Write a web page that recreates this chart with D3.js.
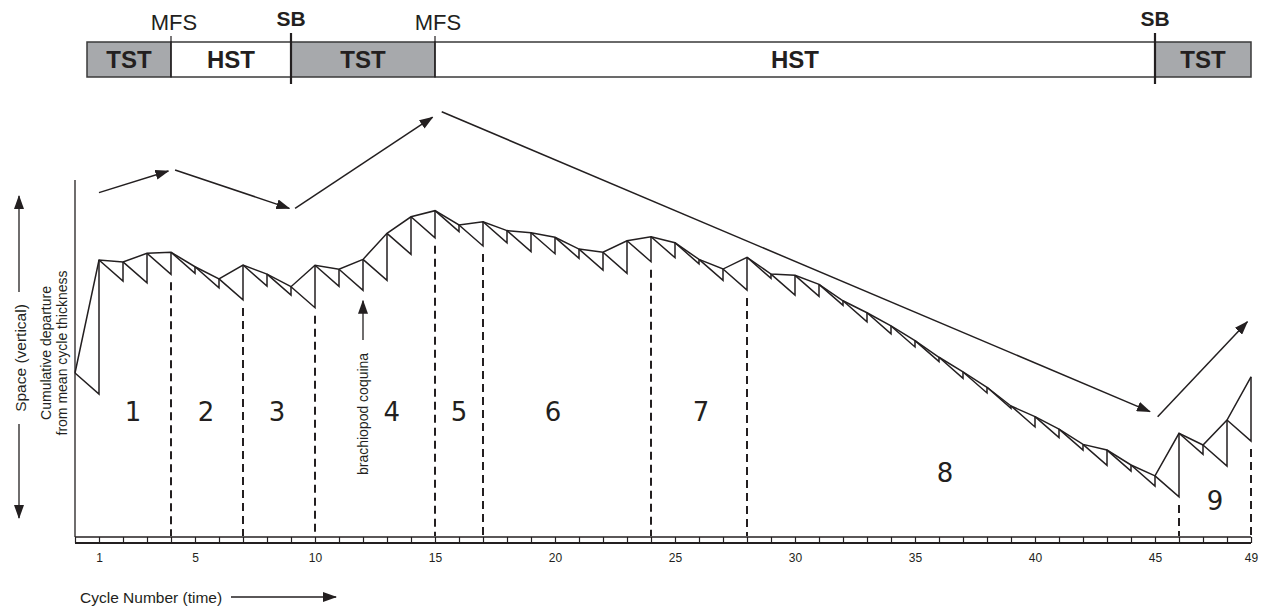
<!DOCTYPE html>
<html>
<head>
<meta charset="utf-8">
<script src="https://cdn.jsdelivr.net/npm/d3@7"></script>
<style>
  body { margin: 0; background: #fff; }
  text { font-family: "Liberation Sans", Arial, sans-serif; fill: #231f20; }
</style>
</head>
<body>
<div id="chart"></div>
<script>
// Cumulative departure from mean cycle thickness (top of each cycle), cycles 0..49
var cycles = d3.range(0, 50);
var departure = [0, 5.38, 5.29, 5.70, 5.75, 5.06, 4.48, 5.14, 4.71, 4.11,
                 5.13, 4.94, 5.41, 6.65, 7.44, 7.73, 7.05, 7.20, 6.78, 6.68,
                 6.46, 5.90, 5.75, 6.30, 6.49, 6.20, 5.41, 4.95, 5.51, 4.71,
                 4.65, 4.22, 3.44, 2.87, 2.24, 1.54, 0.75, 0.05, -0.68, -1.57,
                 -2.08, -2.67, -3.40, -3.67, -4.38, -4.90, -2.87, -3.43, -2.24, -0.18];
var meanThickness = 1;

// cycle boundaries (dashed) and the numbered parasequence sets
var boundaries = [4, 7, 10, 15, 17, 24, 28, 46, 49];
var setLabels = ["1", "2", "3", "4", "5", "6", "7", "8", "9"];
var setLabelX = [2.42, 5.46, 8.42, 13.2, 16.0, 19.92, 26.08, 36.25, 47.5];
var setLabelY = [-2.29, -2.29, -2.29, -2.29, -2.29, -2.29, -2.29, -5.19, -6.52];

// tick labels on the cycle axis
var tickLabels = [1, 5, 10, 15, 20, 25, 30, 35, 40, 45, 49];

// systems tracts bar
var tractStart = [0.5, 4, 9, 15, 45];
var tractEnd = [4, 9, 15, 45, 49];
var tractNames = ["TST", "HST", "TST", "HST", "TST"];
var surfaceAt = [4, 9, 15, 45];
var surfaceNames = ["MFS", "SB", "MFS", "SB"];

// trend arrows [x1, y1, x2, y2] in cycle / departure units
var trendArrows = [
  [1.0, 8.59, 3.89, 9.62],
  [4.17, 9.67, 8.93, 7.84],
  [9.17, 7.84, 14.90, 12.18],
  [15.28, 12.44, 44.79, -1.84],
  [45.11, -2.08, 48.85, 2.44]
];

var width = 1268, height = 610;
var svg = d3.select("#chart").append("svg")
    .attr("width", width)
    .attr("height", height);

var x = d3.scaleLinear().domain([0, 49]).range([75, 1251]);
var y = d3.scaleLinear().domain([-8, 13]).range([541, 100]);
var ink = "#231f20";

// arrow head marker
svg.append("defs").append("marker")
    .attr("id", "head")
    .attr("viewBox", "0 0 14 10")
    .attr("refX", 13).attr("refY", 5)
    .attr("markerWidth", 14).attr("markerHeight", 10)
    .attr("markerUnits", "userSpaceOnUse")
    .attr("orient", "auto")
  .append("path")
    .attr("d", "M0,0 L14,5 L0,10 Z")
    .attr("fill", ink);

// ---- systems tracts bar ----
var barTop = 42, barBottom = 77;
var bar = svg.append("g");
bar.selectAll("rect")
    .data(tractNames)
    .enter().append("rect")
    .attr("x", function(d, i) { return x(tractStart[i]); })
    .attr("y", barTop)
    .attr("width", function(d, i) { return x(tractEnd[i]) - x(tractStart[i]); })
    .attr("height", barBottom - barTop)
    .attr("fill", function(d) { return d == "TST" ? "#a7a9ac" : "#fff"; })
    .attr("stroke", "#3a3a3a")
    .attr("stroke-width", 1.5);
bar.selectAll("text.tract")
    .data(tractNames)
    .enter().append("text")
    .attr("class", "tract")
    .attr("x", function(d, i) { return (x(tractStart[i]) + x(tractEnd[i])) / 2; })
    .attr("y", 68)
    .attr("text-anchor", "middle")
    .attr("font-weight", "bold")
    .attr("font-size", 24)
    .text(function(d) { return d; });
bar.selectAll("line.surface")
    .data(surfaceNames)
    .enter().append("line")
    .attr("x1", function(d, i) { return x(surfaceAt[i]); })
    .attr("x2", function(d, i) { return x(surfaceAt[i]); })
    .attr("y1", function(d) { return d == "SB" ? 33 : 36; })
    .attr("y2", function(d) { return d == "SB" ? 84 : barBottom; })
    .attr("stroke", ink)
    .attr("stroke-width", function(d) { return d == "SB" ? 2.2 : 1.2; });
bar.selectAll("text.surface")
    .data(surfaceNames)
    .enter().append("text")
    .attr("x", function(d, i) { return x(surfaceAt[i]) + (d == "SB" ? 0 : 3); })
    .attr("y", function(d) { return d == "SB" ? 26 : 30; })
    .attr("text-anchor", "middle")
    .attr("font-weight", function(d) { return d == "SB" ? "bold" : "normal"; })
    .attr("font-size", function(d) { return d == "SB" ? 21 : 22; })
    .text(function(d) { return d; });

// ---- frame: vertical axis line ----
svg.append("line")
    .attr("x1", x(0)).attr("x2", x(0))
    .attr("y1", 180).attr("y2", 537)
    .attr("stroke", ink).attr("stroke-width", 1.3);

// ---- cycle axis (double line with cells) ----
var axisG = svg.append("g").attr("transform", "translate(0,537)");
axisG.call(d3.axisBottom(x)
    .tickValues(cycles)
    .tickSize(6)
    .tickPadding(10)
    .tickFormat(function(d) { return tickLabels.indexOf(d) >= 0 ? d : ""; }));
axisG.select(".domain").remove();
axisG.selectAll(".tick line").attr("stroke", ink).attr("stroke-width", 1.2);
axisG.selectAll(".tick text")
    .attr("font-family", "'Liberation Sans', Arial, sans-serif")
    .attr("font-size", 12).attr("fill", ink);
axisG.append("line").attr("x1", x(0)).attr("x2", x(49)).attr("y1", 0).attr("y2", 0)
    .attr("stroke", ink).attr("stroke-width", 1.5);
axisG.append("line").attr("x1", x(0)).attr("x2", x(49)).attr("y1", 6).attr("y2", 6)
    .attr("stroke", ink).attr("stroke-width", 2);

// ---- Fischer plot ----
var plot = svg.append("g")
    .attr("fill", "none")
    .attr("stroke", ink)
    .attr("stroke-width", 1.5)
    .attr("stroke-linejoin", "miter");

// envelope joining cycle tops
plot.append("path")
    .attr("d", d3.line()
        .x(function(d) { return x(d); })
        .y(function(d) { return y(departure[d]); })(cycles));

// saw teeth: mean subsidence diagonal then cycle thickness vertical
plot.selectAll("path.tooth")
    .data(cycles.slice(1))
    .enter().append("path")
    .attr("class", "tooth")
    .attr("d", function(c) {
        var base = departure[c - 1] - meanThickness;
        return "M" + x(c - 1) + "," + y(departure[c - 1]) +
               "L" + x(c) + "," + y(base) +
               "L" + x(c) + "," + y(departure[c]);
    });

// dashed cycle-set boundaries
svg.selectAll("line.bound")
    .data(boundaries)
    .enter().append("line")
    .attr("x1", function(d) { return x(d); })
    .attr("x2", function(d) { return x(d); })
    .attr("y1", function(d) { return y(departure[d - 1] - meanThickness) + 8; })
    .attr("y2", 536)
    .attr("stroke", ink)
    .attr("stroke-width", 2)
    .attr("stroke-dasharray", "8,5");

// set numbers
svg.selectAll("text.set")
    .data(setLabels)
    .enter().append("text")
    .attr("x", function(d, i) { return x(setLabelX[i]); })
    .attr("y", function(d, i) { return y(setLabelY[i]); })
    .attr("text-anchor", "middle")
    .style("font-family", "'DejaVu Sans', Verdana, sans-serif")
    .attr("font-size", 26)
    .text(function(d) { return d; });

// trend arrows
svg.selectAll("line.trend")
    .data(trendArrows)
    .enter().append("line")
    .attr("x1", function(d) { return x(d[0]); })
    .attr("y1", function(d) { return y(d[1]); })
    .attr("x2", function(d) { return x(d[2]); })
    .attr("y2", function(d) { return y(d[3]); })
    .attr("stroke", ink)
    .attr("stroke-width", 1.5)
    .attr("marker-end", "url(#head)");

// brachiopod coquina note
svg.append("line")
    .attr("x1", x(12)).attr("x2", x(12))
    .attr("y1", y(1.57)).attr("y2", y(3.44))
    .attr("stroke", ink).attr("stroke-width", 1.3)
    .attr("marker-end", "url(#head)");
svg.append("text")
    .attr("transform", "translate(" + (x(12) + 5) + "," + y(-1.95) + ") rotate(-90)")
    .attr("text-anchor", "middle")
    .attr("font-size", 14)
    .text("brachiopod coquina");

// y axis titles
svg.append("text")
    .attr("transform", "translate(26,358) rotate(-90)")
    .attr("text-anchor", "middle")
    .attr("font-size", 15.5)
    .text("Space (vertical)");
svg.append("text")
    .attr("transform", "translate(51,353) rotate(-90)")
    .attr("text-anchor", "middle")
    .attr("font-size", 14)
    .text("Cumulative departure");
svg.append("text")
    .attr("transform", "translate(67,353) rotate(-90)")
    .attr("text-anchor", "middle")
    .attr("font-size", 14)
    .text("from mean cycle thickness");
svg.append("line")
    .attr("x1", 19).attr("x2", 19).attr("y1", 292).attr("y2", 196)
    .attr("stroke", ink).attr("stroke-width", 1.3)
    .attr("marker-end", "url(#head)");
svg.append("line")
    .attr("x1", 19).attr("x2", 19).attr("y1", 424).attr("y2", 518)
    .attr("stroke", ink).attr("stroke-width", 1.3)
    .attr("marker-end", "url(#head)");

// x axis title
svg.append("text")
    .attr("x", 80).attr("y", 603)
    .attr("font-size", 15.5)
    .text("Cycle Number (time)");
svg.append("line")
    .attr("x1", 231).attr("x2", 336).attr("y1", 597).attr("y2", 597)
    .attr("stroke", ink).attr("stroke-width", 1.3)
    .attr("marker-end", "url(#head)");
</script>
</body>
</html>
